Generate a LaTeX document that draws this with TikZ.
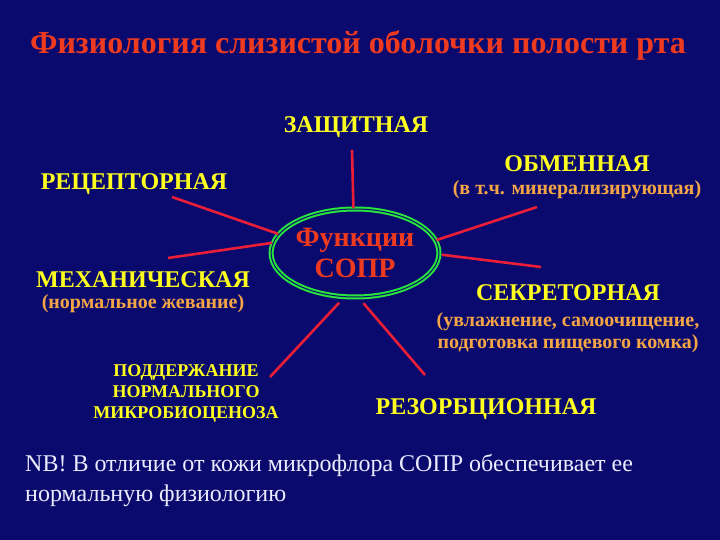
\documentclass[tikz,border=0pt]{standalone}
\usepackage{fontspec}
\setmainfont{Liberation Serif}
\usetikzlibrary{positioning,shapes.geometric}
\definecolor{bgnavy}{RGB}{10,10,110}
\definecolor{titlered}{RGB}{238,58,30}
\definecolor{labyellow}{RGB}{255,255,30}
\definecolor{suborange}{RGB}{245,165,70}
\definecolor{spokered}{RGB}{235,30,55}
\definecolor{ringgreen}{RGB}{40,230,60}
\definecolor{notewhite}{RGB}{235,235,255}
\tikzset{every node/.style={align=center, inner sep=0pt},
  func/.style={text=labyellow, font=\bfseries\fontsize{24}{26}\selectfont},
  smallfunc/.style={text=labyellow, font=\bfseries\fontsize{18}{21}\selectfont},
  sub/.style={text=suborange, font=\bfseries\fontsize{20}{22}\selectfont},
  spoke/.style={draw=spokered, line width=2.6pt}}

\begin{document}
\begin{tikzpicture}[x=1pt, y=-1pt]
            \fill[bgnavy] (0,0) rectangle (720,540);
            \node[text=titlered, font=\bfseries\fontsize{32}{34}\selectfont] (title) at (358,45) {Физиология слизистой оболочки полости рта};
            \node [ellipse, draw=ringgreen, double=bgnavy, double distance=1pt, line width=2pt,
                minimum width=166pt, minimum height=88pt, text=titlered,
                font=\bfseries\fontsize{28}{31}\selectfont] (sopr) at (355,253) {Функции\\СОПР};
            \node [func] (zashch) at (356,127) {ЗАЩИТНАЯ};
            \node [func] (recep) at (134,184) {РЕЦЕПТОРНАЯ};
            \node [func] (mech) at (143,280) {МЕХАНИЧЕСКАЯ};
            \node [sub] (mechsub) [below=6pt of mech] {(нормальное жевание)};
            \node [func] (obmen) at (577,164) {ОБМЕННАЯ};
            \node [sub] (obmensub) [below=8pt of obmen] {(в т.ч. минерализирующая)};
            \node [func] (sekret) at (568,293) {СЕКРЕТОРНАЯ};
            \node [sub] (sekretsub) [below=11pt of sekret] {(увлажнение, самоочищение,\\подготовка пищевого комка)};
            \node [smallfunc] (podderzh) at (186,393) {ПОДДЕРЖАНИЕ\\НОРМАЛЬНОГО\\МИКРОБИОЦЕНОЗА};
            \node [func] (rezorb) at (486,409) {РЕЗОРБЦИОННАЯ};
            \node [text=notewhite, font=\fontsize{24}{30}\selectfont, align=left, anchor=west] (nb) at (25,480)
                {NB! В отличие от кожи микрофлора СОПР обеспечивает ее\\нормальную физиологию};
            % free ends of the spokes
            \coordinate (czashch) at (352,150);
            \coordinate (crecep) at (172,197);
            \coordinate (cmech) at (168,258);
            \coordinate (cobmen) at (537,207);
            \coordinate (csekret) at (541,267);
            \coordinate (cpodderzh) at (270,377);
            \coordinate (crezorb) at (425,375);
            \path[spoke] (sopr.92) -- (czashch)
                (sopr.166) -- (crecep)
                (sopr.173) -- (cmech)
                (sopr.9) [shorten <=2pt] -- (cobmen)
                (sopr.359) [shorten <=2pt] -- (csekret);
            \draw[spoke, shorten <=7pt] (sopr.256) -- (cpodderzh);
            \draw[spoke, shorten <=7pt] (sopr.275) -- (crezorb);
        \end{tikzpicture}
\end{document}
